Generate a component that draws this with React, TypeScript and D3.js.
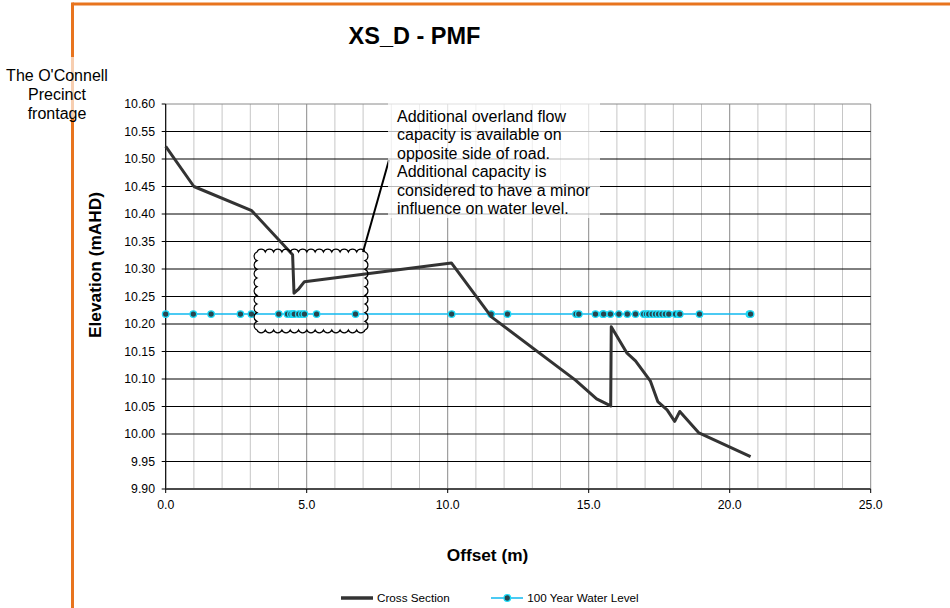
import React from "react";
import * as d3 from "d3";

const sectionOffset = [0, 1.0, 3.05, 4.5, 4.55, 4.72, 4.92, 10.13, 11.55, 14.53, 15.28, 15.78, 15.8, 16.36, 16.66, 17.19, 17.45, 17.78, 18.05, 18.23, 18.91, 20.74];
const sectionElev = [10.523, 10.45, 10.406, 10.326, 10.256, 10.264, 10.277, 10.311, 10.213, 10.098, 10.064, 10.051, 10.195, 10.147, 10.133, 10.096, 10.059, 10.044, 10.023, 10.041, 10.002, 9.959];

const waterOffset = [0, 0.98, 1.61, 2.65, 3.04, 4.01, 4.32, 4.44, 4.52, 4.56, 4.72, 4.83, 4.92, 5.35, 6.73, 10.14, 11.54, 12.12, 14.55, 14.65, 15.24, 15.5, 15.53, 15.77, 16.07, 16.37, 16.66, 16.95, 17.05, 17.13, 17.25, 17.37, 17.48, 17.6, 17.72, 17.84, 18.08, 18.2, 18.23, 18.93, 20.7, 20.74];
const waterLevel = 10.218;

const xTicks = [0, 5, 10, 15, 20, 25];
const xMinor = d3.range(0, 26, 1);
const yTicks = d3.range(0, 15).map((i) => +(9.9 + i * 0.05).toFixed(2));

const titleText = "XS_D - PMF";
const xTitle = "Offset (m)";
const yTitle = "Elevation (mAHD)";
const sideLabel = ["The O'Connell", "Precinct", "frontage"];
const noteLines = [
  "Additional overland flow",
  "capacity is available on",
  "opposite side of road.",
  "Additional capacity is",
  "considered to have a minor",
  "influence on water level.",
];
const legendNames = ["Cross Section", "100 Year Water Level"];

const FONT = "Arial, 'Liberation Sans', sans-serif";

function cloudPath(x0: number, y0: number, x1: number, y1: number, step: number) {
  const nx = Math.max(1, Math.round((x1 - x0) / step));
  const ny = Math.max(1, Math.round((y1 - y0) / step));
  const dx = (x1 - x0) / nx;
  const dy = (y1 - y0) / ny;
  const rx = (dx / 2) * 1.08;
  const ry = (dy / 2) * 1.08;
  let p = `M${x0},${y0}`;
  for (let i = 1; i <= nx; i++) p += ` A${rx},${rx} 0 0 1 ${x0 + i * dx},${y0}`;
  for (let i = 1; i <= ny; i++) p += ` A${ry},${ry} 0 0 1 ${x1},${y0 + i * dy}`;
  for (let i = 1; i <= nx; i++) p += ` A${rx},${rx} 0 0 1 ${x1 - i * dx},${y1}`;
  for (let i = 1; i <= ny; i++) p += ` A${ry},${ry} 0 0 1 ${x0},${y1 - i * dy}`;
  return p + " Z";
}

export default function App() {
  const W = 950;
  const H = 608;
  const x = d3.scaleLinear().domain([0, 25]).range([165.7, 870.7]);
  const y = d3.scaleLinear().domain([9.9, 10.6]).range([489, 104]);

  const section = sectionOffset.map((o, i) => [o, sectionElev[i]] as [number, number]);
  const water = waterOffset.map((o) => [o, waterLevel] as [number, number]);
  const line = d3
    .line<[number, number]>()
    .x((d) => x(d[0]))
    .y((d) => y(d[1]));

  const left = x(0);
  const right = x(25);
  const top = y(10.6);
  const bottom = y(9.9);

  const lineColor = "#333333";
  const waterColor = "#0fb8ef";
  const markerFill = "#27464f";
  const markerStroke = "#1ddcf8";
  const orange = "#e8741e";

  return (
    <svg
      width={W}
      height={H}
      style={{ position: "absolute", left: 0, top: 0, background: "#fff" }}
      fontFamily={FONT}
    >
      {/* orange frame */}
      <line x1={72.5} y1={4} x2={W} y2={4} stroke={orange} strokeWidth={3} />
      <line x1={72.5} y1={2.5} x2={72.5} y2={H} stroke={orange} strokeWidth={3} />

      {/* side label */}
      <rect x={4} y={57} width={108} height={61} fill="#fff" fillOpacity={0.65} />
      {sideLabel.map((t, i) => (
        <text key={t} x={57} y={81 + i * 18.8} fontSize={16} textAnchor="middle" fill="#000">
          {t}
        </text>
      ))}

      {/* title */}
      <text x={414.5} y={44} fontSize={23.5} fontWeight="bold" textAnchor="middle">
        {titleText}
      </text>

      {/* minor vertical grid */}
      {xMinor
        .filter((v) => v % 5 !== 0)
        .map((v) => (
          <line key={"vm" + v} x1={x(v)} x2={x(v)} y1={top} y2={bottom} stroke="#c6c6c6" strokeWidth={1} />
        ))}
      {xTicks
        .filter((v) => v !== 0)
        .map((v) => (
          <line key={"vM" + v} x1={x(v)} x2={x(v)} y1={top} y2={bottom} stroke="#8a8a8a" strokeWidth={1} />
        ))}
      {/* horizontal grid */}
      {yTicks
        .filter((v) => v > 9.9 && v < 10.6)
        .map((v) => (
          <line key={"h" + v} x1={left} x2={right} y1={y(v)} y2={y(v)} stroke="#000" strokeWidth={1} />
        ))}
      <line x1={left} x2={right} y1={top} y2={top} stroke="#8a8a8a" strokeWidth={1} />

      {/* axes */}
      <line x1={left} x2={left} y1={top} y2={bottom} stroke="#000" strokeWidth={1.2} />
      <line x1={left} x2={right} y1={bottom} y2={bottom} stroke="#4a4a4a" strokeWidth={2} />
      {yTicks.map((v) => (
        <g key={"yt" + v}>
          <line x1={left - 4} x2={left} y1={y(v)} y2={y(v)} stroke="#000" strokeWidth={1} />
          <text x={155} y={y(v)} dy="0.36em" fontSize={12.3} textAnchor="end">
            {v.toFixed(2)}
          </text>
        </g>
      ))}
      {xTicks.map((v) => (
        <g key={"xt" + v}>
          <line x1={x(v)} x2={x(v)} y1={bottom} y2={bottom + 4} stroke="#000" strokeWidth={1} />
          <text x={x(v)} y={508.5} fontSize={12.3} textAnchor="middle">
            {v.toFixed(1)}
          </text>
        </g>
      ))}

      {/* axis titles */}
      <text
        transform={`translate(101,265) rotate(-90)`}
        fontSize={17.3}
        fontWeight="bold"
        textAnchor="middle"
      >
        {yTitle}
      </text>
      <text x={487.5} y={561} fontSize={17.3} fontWeight="bold" textAnchor="middle">
        {xTitle}
      </text>

      {/* water level */}
      <path d={line(water) || ""} fill="none" stroke={waterColor} strokeWidth={1.5} />
      {water.map((d, i) => (
        <circle key={"w" + i} cx={x(d[0])} cy={y(d[1])} r={3.3} fill={markerFill} stroke={markerStroke} strokeWidth={1.3} />
      ))}

      {/* cross section */}
      <path d={line(section) || ""} fill="none" stroke={lineColor} strokeWidth={3} strokeLinejoin="round" />

      {/* annotation */}
      <path d={cloudPath(257, 252, 365, 330, 8.5)} fill="none" stroke="#000" strokeWidth={1.2} />
      <line x1={389} y1={160} x2={363} y2={252} stroke="#000" strokeWidth={2} />
      <rect x={388} y={96} width={212} height={122} fill="#fff" fillOpacity={0.72} />
      {noteLines.map((t, i) => (
        <text key={"n" + i} x={397} y={122 + i * 18.4} fontSize={16}>
          {t}
        </text>
      ))}

      {/* legend */}
      <line x1={341} x2={373} y1={598} y2={598} stroke={lineColor} strokeWidth={3.5} />
      <text x={377} y={602} fontSize={11.7}>
        {legendNames[0]}
      </text>
      <line x1={491} x2={523} y1={598} y2={598} stroke={waterColor} strokeWidth={1.5} />
      <circle cx={507.3} cy={598} r={3.3} fill={markerFill} stroke={markerStroke} strokeWidth={1.3} />
      <text x={527.3} y={602} fontSize={11.7}>
        {legendNames[1]}
      </text>
    </svg>
  );
}
